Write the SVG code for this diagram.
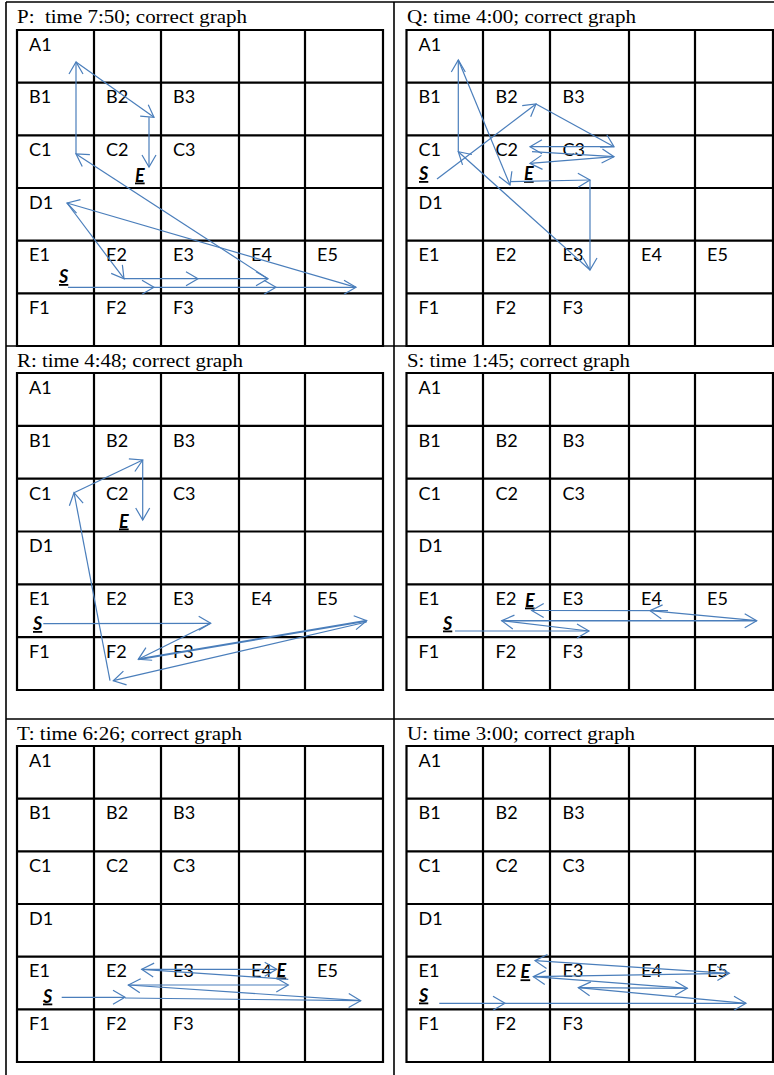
<svg xmlns="http://www.w3.org/2000/svg" width="774" height="1075" viewBox="0 0 774 1075">
<style>
.frame{fill:none;stroke:#000;stroke-width:1.6}
.grid{fill:none;stroke:#000;stroke-width:2.2}
.title{font-family:"Liberation Serif",serif;font-size:19px;fill:#000}
.lbl{font-family:Lato,"Open Sans",sans-serif;font-size:18px;fill:#000}
.se{font-family:Lato,"Open Sans",sans-serif;font-size:18px;font-weight:bold;font-style:italic;text-decoration:underline;fill:#000}
.c{fill:none;stroke:#4A7EBB;stroke-width:1.2;marker-end:url(#ah)}
</style>
<defs>
<marker id="ah" viewBox="-14 -9 16 18" refX="0" refY="0" markerWidth="16" markerHeight="18" markerUnits="userSpaceOnUse" orient="auto" overflow="visible">
<path d="M-12,-7 L0,0 L-12,7" fill="none" stroke="#4A7EBB" stroke-width="1.2"/>
</marker>
</defs>
<rect width="774" height="1075" fill="#fff"/>
<g id="table-frame">
<path class="frame" d="M6,2 H774 M6,2 V1075 M394,2 V1075 M6,346 H774 M6,719 H774"/>
</g>

<g id="panel-P">
<text class="title" x="17" y="23" textLength="230" lengthAdjust="spacingAndGlyphs" xml:space="preserve">P:  time 7:50; correct graph</text>
<path class="grid" d="M17,30 H383 V346 H17 Z M94,30 V346 M161,30 V346 M239,30 V346 M305,30 V346 M17,82.7 H383 M17,135.3 H383 M17,188 H383 M17,240.7 H383 M17,293.3 H383"/>
<g class="lbl">
<text x="29" y="50.7">A1</text>
<text x="29" y="103.4">B1</text><text x="106" y="103.4">B2</text><text x="173" y="103.4">B3</text>
<text x="29" y="156">C1</text><text x="106" y="156">C2</text><text x="173" y="156">C3</text>
<text x="29" y="208.7">D1</text>
<text x="29" y="261.4">E1</text><text x="106" y="261.4">E2</text><text x="173" y="261.4">E3</text><text x="251" y="261.4">E4</text><text x="317" y="261.4">E5</text>
<text x="29" y="314">F1</text><text x="106" y="314">F2</text><text x="173" y="314">F3</text>
</g>
<text class="se" x="59" y="283">S</text>
<text class="se" x="135" y="181.5">E</text>
</g>

<g id="panel-Q">
<text class="title" x="407" y="23" textLength="229" lengthAdjust="spacingAndGlyphs">Q: time 4:00; correct graph</text>
<path class="grid" d="M406.5,30 H773 V346 H406.5 Z M483,30 V346 M550,30 V346 M629,30 V346 M695,30 V346 M406.5,82.7 H773 M406.5,135.3 H773 M406.5,188 H773 M406.5,240.7 H773 M406.5,293.3 H773"/>
<g class="lbl">
<text x="418.5" y="50.7">A1</text>
<text x="418.5" y="103.4">B1</text><text x="495.5" y="103.4">B2</text><text x="562.5" y="103.4">B3</text>
<text x="418.5" y="156">C1</text><text x="495.5" y="156">C2</text><text x="562.5" y="156">C3</text>
<text x="418.5" y="208.7">D1</text>
<text x="418.5" y="261.4">E1</text><text x="495.5" y="261.4">E2</text><text x="562.5" y="261.4">E3</text><text x="641" y="261.4">E4</text><text x="707" y="261.4">E5</text>
<text x="418.5" y="314">F1</text><text x="495.5" y="314">F2</text><text x="562.5" y="314">F3</text>
</g>
<text class="se" x="419" y="180">S</text>
<text class="se" x="524" y="180">E</text>
</g>

<g id="panel-R">
<text class="title" x="17" y="367" textLength="226" lengthAdjust="spacingAndGlyphs">R: time 4:48; correct graph</text>
<path class="grid" d="M17,373 H383 V690 H17 Z M94,373 V690 M161,373 V690 M239,373 V690 M305,373 V690 M17,425.8 H383 M17,478.7 H383 M17,531.5 H383 M17,584.3 H383 M17,637.2 H383"/>
<g class="lbl">
<text x="29" y="394">A1</text>
<text x="29" y="446.8">B1</text><text x="106" y="446.8">B2</text><text x="173" y="446.8">B3</text>
<text x="29" y="499.6">C1</text><text x="106" y="499.6">C2</text><text x="173" y="499.6">C3</text>
<text x="29" y="552.4">D1</text>
<text x="29" y="605.2">E1</text><text x="106" y="605.2">E2</text><text x="173" y="605.2">E3</text><text x="251" y="605.2">E4</text><text x="317" y="605.2">E5</text>
<text x="29" y="658">F1</text><text x="106" y="658">F2</text><text x="173" y="658">F3</text>
</g>
<text class="se" x="33" y="630">S</text>
<text class="se" x="119" y="527.5">E</text>
</g>

<g id="panel-S">
<text class="title" x="407" y="367" textLength="223" lengthAdjust="spacingAndGlyphs">S: time 1:45; correct graph</text>
<path class="grid" d="M406.5,373 H773 V690 H406.5 Z M483,373 V690 M550,373 V690 M629,373 V690 M695,373 V690 M406.5,425.8 H773 M406.5,478.7 H773 M406.5,531.5 H773 M406.5,584.3 H773 M406.5,637.2 H773"/>
<g class="lbl">
<text x="418.5" y="394">A1</text>
<text x="418.5" y="446.8">B1</text><text x="495.5" y="446.8">B2</text><text x="562.5" y="446.8">B3</text>
<text x="418.5" y="499.6">C1</text><text x="495.5" y="499.6">C2</text><text x="562.5" y="499.6">C3</text>
<text x="418.5" y="552.4">D1</text>
<text x="418.5" y="605.2">E1</text><text x="495.5" y="605.2">E2</text><text x="562.5" y="605.2">E3</text><text x="641" y="605.2">E4</text><text x="707" y="605.2">E5</text>
<text x="418.5" y="658">F1</text><text x="495.5" y="658">F2</text><text x="562.5" y="658">F3</text>
</g>
<text class="se" x="443" y="629.5">S</text>
<text class="se" x="525" y="606.5">E</text>
</g>

<g id="panel-T">
<text class="title" x="17" y="740" textLength="225" lengthAdjust="spacingAndGlyphs">T: time 6:26; correct graph</text>
<path class="grid" d="M17,746 H383 V1062 H17 Z M94,746 V1062 M161,746 V1062 M239,746 V1062 M305,746 V1062 M17,798.7 H383 M17,851.3 H383 M17,904 H383 M17,956.7 H383 M17,1009.3 H383"/>
<g class="lbl">
<text x="29" y="766.7">A1</text>
<text x="29" y="819.4">B1</text><text x="106" y="819.4">B2</text><text x="173" y="819.4">B3</text>
<text x="29" y="872">C1</text><text x="106" y="872">C2</text><text x="173" y="872">C3</text>
<text x="29" y="924.7">D1</text>
<text x="29" y="977.4">E1</text><text x="106" y="977.4">E2</text><text x="173" y="977.4">E3</text><text x="251" y="977.4">E4</text><text x="317" y="977.4">E5</text>
<text x="29" y="1030">F1</text><text x="106" y="1030">F2</text><text x="173" y="1030">F3</text>
</g>
<text class="se" x="43" y="1002.5">S</text>
<text class="se" x="276.5" y="976.5">E</text>
</g>

<g id="panel-U">
<text class="title" x="407" y="740" textLength="228" lengthAdjust="spacingAndGlyphs">U: time 3:00; correct graph</text>
<path class="grid" d="M406.5,746 H773 V1062 H406.5 Z M483,746 V1062 M550,746 V1062 M629,746 V1062 M695,746 V1062 M406.5,798.7 H773 M406.5,851.3 H773 M406.5,904 H773 M406.5,956.7 H773 M406.5,1009.3 H773"/>
<g class="lbl">
<text x="418.5" y="766.7">A1</text>
<text x="418.5" y="819.4">B1</text><text x="495.5" y="819.4">B2</text><text x="562.5" y="819.4">B3</text>
<text x="418.5" y="872">C1</text><text x="495.5" y="872">C2</text><text x="562.5" y="872">C3</text>
<text x="418.5" y="924.7">D1</text>
<text x="418.5" y="977.4">E1</text><text x="495.5" y="977.4">E2</text><text x="562.5" y="977.4">E3</text><text x="641" y="977.4">E4</text><text x="707" y="977.4">E5</text>
<text x="418.5" y="1030">F1</text><text x="495.5" y="1030">F2</text><text x="562.5" y="1030">F3</text>
</g>
<text class="se" x="419" y="1001.5">S</text>
<text class="se" x="520.5" y="978.3">E</text>
</g>

<g id="connectors">
<g id="P-connectors">
<line class="c" x1="68" y1="287.3" x2="154" y2="287.3"/>
<line class="c" x1="154" y1="287.3" x2="276" y2="287.3"/>
<line class="c" x1="276" y1="287.3" x2="356" y2="287.3"/>
<line class="c" x1="356" y1="287.3" x2="67" y2="203"/>
<line class="c" x1="67" y1="203" x2="124" y2="278.7"/>
<line class="c" x1="124" y1="278.7" x2="198" y2="278.7"/>
<line class="c" x1="198" y1="278.7" x2="268" y2="278.7"/>
<line class="c" x1="268" y1="278.7" x2="76" y2="154"/>
<line class="c" x1="76" y1="154" x2="76" y2="62"/>
<line class="c" x1="76" y1="62" x2="154" y2="117.3"/>
<line class="c" x1="149" y1="117.3" x2="149" y2="167"/>
</g>
<g id="Q-connectors">
<line class="c" x1="437" y1="179" x2="536" y2="104"/>
<line class="c" x1="536" y1="104" x2="614" y2="146.7"/>
<line class="c" x1="614" y1="146.7" x2="530" y2="146.7"/>
<line class="c" x1="532" y1="151.7" x2="614" y2="156.7"/>
<line class="c" x1="614" y1="156.7" x2="530" y2="163.3"/>
<line class="c" x1="510" y1="181.7" x2="590" y2="180"/>
<line class="c" x1="590" y1="180" x2="590" y2="270"/>
<line class="c" x1="590" y1="270" x2="458.3" y2="151.7"/>
<line class="c" x1="458.3" y1="151.7" x2="458.3" y2="60"/>
<line class="c" x1="458.3" y1="60" x2="510" y2="185"/>
</g>
<g id="R-connectors">
<line class="c" x1="43.3" y1="623.7" x2="210.7" y2="623.3"/>
<line class="c" x1="210.7" y1="623.3" x2="138.3" y2="659.3"/>
<line class="c" x1="138.3" y1="659.3" x2="366.7" y2="620.7" style="stroke-width:2"/>
<line class="c" x1="366.7" y1="622" x2="113.3" y2="680.7"/>
<line class="c" x1="110" y1="680.7" x2="74" y2="492.7"/>
<line class="c" x1="74" y1="492.7" x2="142.7" y2="460"/>
<line class="c" x1="142.7" y1="460" x2="142.7" y2="520"/>
</g>
<g id="S-connectors">
<line class="c" x1="455" y1="631" x2="589" y2="631"/>
<line class="c" x1="589" y1="631" x2="501.7" y2="620.7"/>
<line class="c" x1="501.7" y1="620.7" x2="756.7" y2="620.7" style="stroke-width:1.6"/>
<line class="c" x1="756.7" y1="620.7" x2="650" y2="610.7"/>
<line class="c" x1="668" y1="610.7" x2="531.7" y2="610.5"/>
</g>
<g id="T-connectors">
<line class="c" x1="61.7" y1="997.3" x2="125" y2="997.3"/>
<line class="c" x1="125" y1="998" x2="360.7" y2="1000.7"/>
<line class="c" x1="360.7" y1="1000.7" x2="128.3" y2="985"/>
<line class="c" x1="128.3" y1="985" x2="288.3" y2="985"/>
<line class="c" x1="288.3" y1="979.3" x2="141.7" y2="969.3"/>
<line class="c" x1="141.7" y1="969.3" x2="276.7" y2="969.3"/>
</g>
<g id="U-connectors">
<line class="c" x1="439.3" y1="1003.3" x2="505" y2="1003.3"/>
<line class="c" x1="505" y1="1003.3" x2="746" y2="1003.3"/>
<line class="c" x1="746" y1="1003.3" x2="578.3" y2="987.7"/>
<line class="c" x1="578.3" y1="987.7" x2="687.3" y2="988.3"/>
<line class="c" x1="687.3" y1="988.3" x2="533.3" y2="976.7"/>
<line class="c" x1="533.3" y1="976.7" x2="729.3" y2="973.3"/>
<line class="c" x1="729.3" y1="973.3" x2="535" y2="960.7"/>
</g>
</g>
</svg>
